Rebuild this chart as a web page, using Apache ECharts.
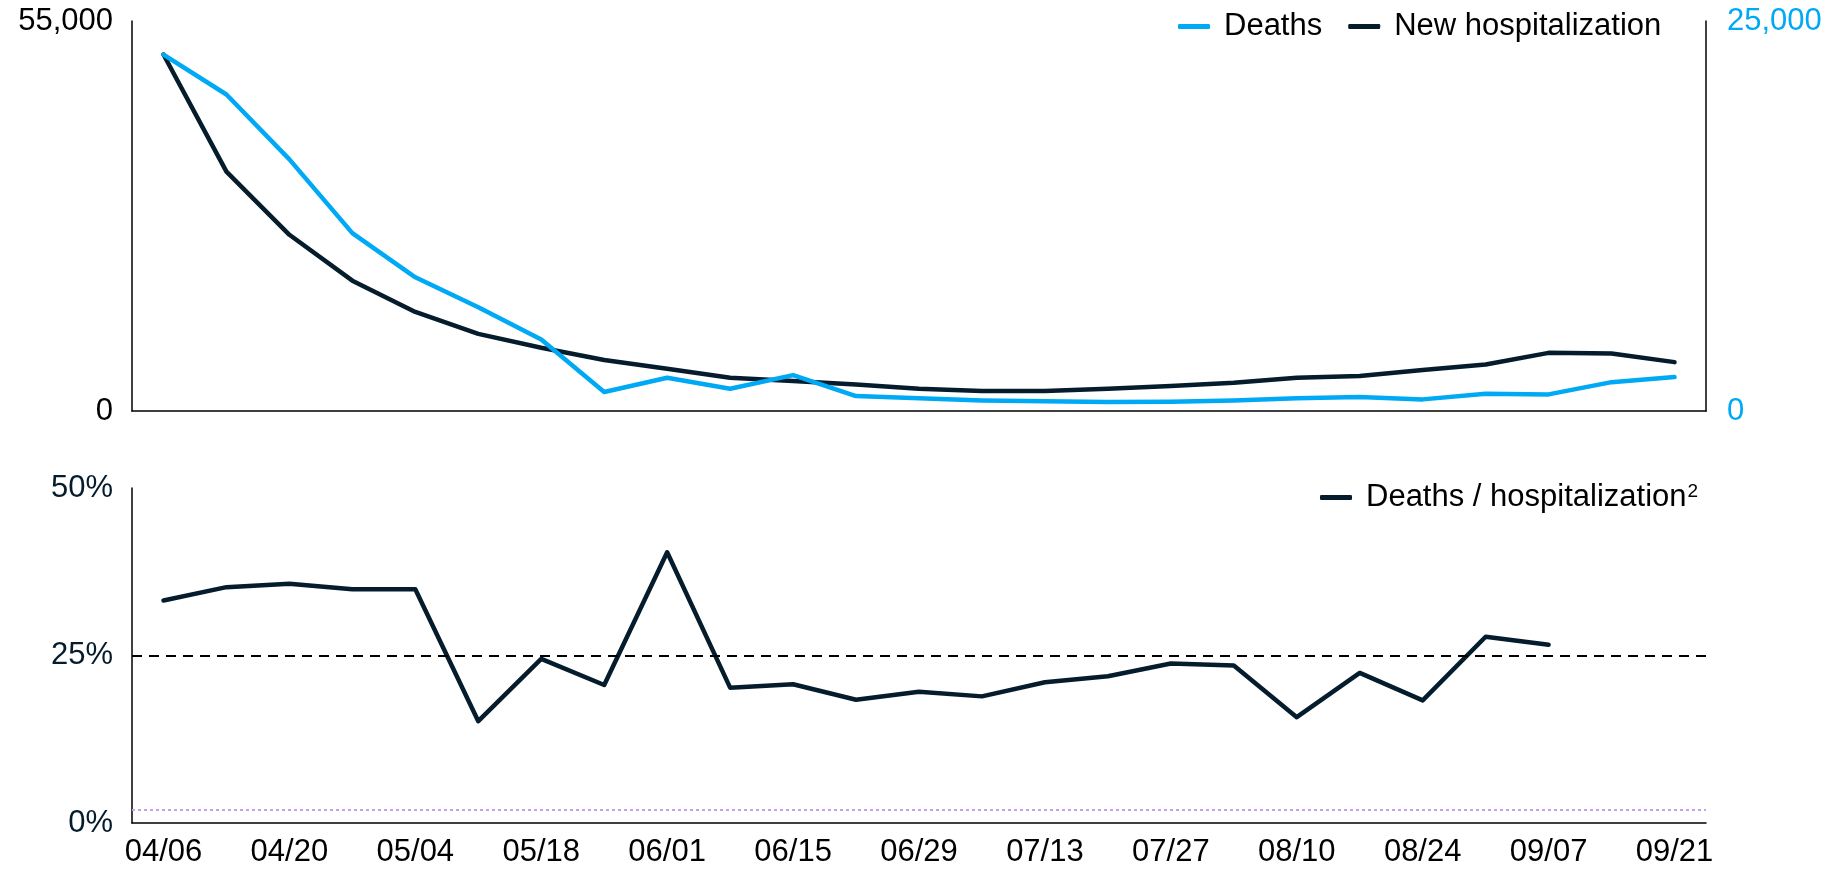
<!DOCTYPE html>
<html>
<head>
<meta charset="utf-8">
<script src="https://cdn.jsdelivr.net/npm/echarts@6/dist/echarts.min.js"></script>
<style>
  html, body { margin: 0; padding: 0; background: #fff; }
  #chart { width: 1830px; height: 870px; }
</style>
</head>
<body>
<div id="chart"></div>
<script>
// ---- Data ----
const categories = ['04/06','04/13','04/20','04/27','05/04','05/11','05/18','05/25','06/01','06/08','06/15','06/22','06/29','07/06','07/13','07/20','07/27','08/03','08/10','08/17','08/24','08/31','09/07','09/14','09/21'];
const newHospitalization = [50270, 33760, 24850, 18380, 13970, 10880, 8910, 7200, 5960, 4690, 4220, 3750, 3140, 2810, 2810, 3140, 3520, 3990, 4690, 4920, 5770, 6560, 8200, 8110, 6890];
const deaths = [22850, 20290, 16130, 11400, 8570, 6650, 4580, 1215, 2130, 1430, 2300, 960, 810, 680, 620, 575, 600, 680, 810, 895, 745, 1110, 1065, 1850, 2175];
const deathsPerHosp = [33.2, 35.2, 35.7, 34.9, 34.9, 15.2, 24.5, 20.6, 40.4, 20.2, 20.7, 18.4, 19.6, 18.9, 21.0, 21.9, 23.8, 23.5, 15.8, 22.4, 18.3, 27.8, 26.6, null, null];
const leftAxisMax = 55000;
const rightAxisMax = 25000;
const pctAxisMax = 50;
const pctTicks = 25;
const refLineDashed = 25;
const refLineDotted = 2;

// ---- Styles ----
const NAVY = '#051c2c';
const BLUE = '#00a9f4';
const FONT = "'Liberation Sans', Arial, sans-serif";
const FS = 31;

const chart = echarts.init(document.getElementById('chart'), null, { renderer: 'canvas' });
const fmt = v => v.toLocaleString('en-US');

chart.setOption({
  animation: false,
  backgroundColor: '#fff',
  textStyle: { fontFamily: FONT },
  grid: [
    { left: 132, right: 124, top: 21, height: 390 },
    { left: 132, right: 124, top: 488, height: 335 }
  ],
  legend: [
    {
      data: ['Deaths', 'New hospitalization'],
      left: 1173, top: 6,
      icon: 'roundRect', itemWidth: 32, itemHeight: 5, itemGap: 26,
      textStyle: { fontSize: FS, color: '#000', fontFamily: FONT, padding: [0, 0, 0, 9] }
    },
    {
      data: ['Deaths / hospitalization'],
      left: 1315, top: 477,
      icon: 'roundRect', itemWidth: 32, itemHeight: 5,
      formatter: n => '{t|' + n + '}{sup|2}',
      textStyle: {
        fontSize: FS, color: '#000', fontFamily: FONT, padding: [0, 0, 0, 9],
        rich: {
          t: { fontSize: FS, color: '#000', fontFamily: FONT },
          sup: { fontSize: 19, color: '#000', fontFamily: FONT, verticalAlign: 'top', padding: [0, 0, 10, 1] }
        }
      }
    }
  ],
  xAxis: [
    {
      type: 'category', gridIndex: 0, data: categories, boundaryGap: true,
      axisLine: { show: true, lineStyle: { color: '#000', width: 1.5 } },
      axisTick: { show: false }, axisLabel: { show: false }, splitLine: { show: false }
    },
    {
      type: 'category', gridIndex: 1, data: categories, boundaryGap: true,
      axisLine: { show: true, lineStyle: { color: '#000', width: 1.5 } },
      axisTick: { show: false },
      axisLabel: { interval: 1, fontSize: FS, color: '#000', fontFamily: FONT, margin: 14 },
      splitLine: { show: false }
    }
  ],
  yAxis: [
    {
      type: 'value', gridIndex: 0, position: 'left', min: 0, max: leftAxisMax, interval: leftAxisMax,
      axisLine: { show: true, lineStyle: { color: '#000', width: 1.5 } },
      axisTick: { show: false }, splitLine: { show: false },
      axisLabel: { formatter: fmt, fontSize: FS, color: '#000', fontFamily: FONT, margin: 19 }
    },
    {
      type: 'value', gridIndex: 0, position: 'right', min: 0, max: rightAxisMax, interval: rightAxisMax,
      axisLine: { show: true, lineStyle: { color: '#000', width: 1.5 } },
      axisTick: { show: false }, splitLine: { show: false },
      axisLabel: { formatter: fmt, fontSize: FS, color: BLUE, fontFamily: FONT, margin: 21 }
    },
    {
      type: 'value', gridIndex: 1, position: 'left', min: 0, max: pctAxisMax, interval: pctTicks,
      axisLine: { show: true, lineStyle: { color: '#000', width: 1.5 } },
      axisTick: { show: false }, splitLine: { show: false },
      axisLabel: { formatter: '{value}%', fontSize: FS, color: NAVY, fontFamily: FONT, margin: 19 }
    }
  ],
  series: [
    {
      name: 'New hospitalization', type: 'line', xAxisIndex: 0, yAxisIndex: 0,
      data: newHospitalization, showSymbol: false, symbol: 'none',
      itemStyle: { color: NAVY },
      lineStyle: { color: NAVY, width: 4.5, join: 'round', cap: 'round' }
    },
    {
      name: 'Deaths', type: 'line', xAxisIndex: 0, yAxisIndex: 1,
      data: deaths, showSymbol: false, symbol: 'none',
      itemStyle: { color: BLUE },
      lineStyle: { color: BLUE, width: 4.5, join: 'round', cap: 'round' }
    },
    {
      name: 'Deaths / hospitalization', type: 'line', xAxisIndex: 1, yAxisIndex: 2,
      data: deathsPerHosp, showSymbol: false, symbol: 'none', connectNulls: false,
      itemStyle: { color: NAVY },
      lineStyle: { color: NAVY, width: 4.5, join: 'round', cap: 'round' },
      markLine: {
        silent: true, symbol: 'none', label: { show: false },
        data: [
          { yAxis: refLineDashed, lineStyle: { color: '#000', width: 2, type: [10, 7] } },
          { yAxis: refLineDotted, lineStyle: { color: '#c2a3ec', width: 2, type: [3, 3] } }
        ]
      }
    }
  ]
});
</script>
</body>
</html>
